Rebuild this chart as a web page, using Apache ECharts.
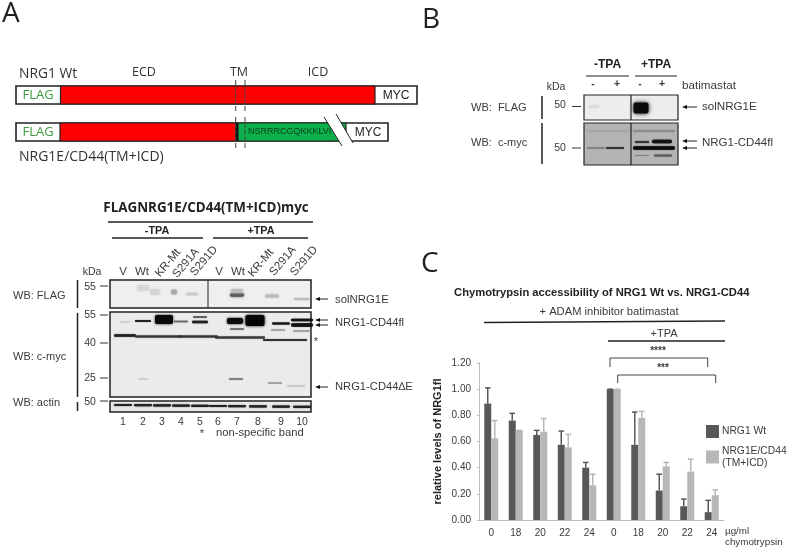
<!DOCTYPE html>
<html>
<head>
<meta charset="utf-8">
<style>
html,body{margin:0;padding:0;background:#fff}
#c{width:787px;height:550px;filter:blur(0.6px)}
</style>
<script src="https://cdn.jsdelivr.net/npm/echarts@6/dist/echarts.min.js"></script>
</head>
<body>
<div id="c"></div>
<script>
// ---- Panel C data ----
const doses = ['0','18','20','22','24','0','18','20','22','24'];
const wtName = 'NRG1 Wt';
const cd44Name = 'NRG1E/CD44\n(TM+ICD)';
const wtValues = [0.89,0.76,0.65,0.575,0.40,1.00,0.575,0.225,0.105,0.06];
const cd44Values = [0.625,0.685,0.675,0.555,0.265,1.00,0.78,0.41,0.37,0.19];
const wtErrTop = [1.01,0.815,0.685,0.68,0.44,1.00,0.825,0.35,0.16,0.15];
const cd44ErrTop = [0.76,0.685,0.775,0.655,0.35,1.00,0.83,0.44,0.465,0.23];
// ---- Panel labels ----
const laneNames = ['V','Wt','KR-Mt','S291A','S291D','V','Wt','KR-Mt','S291A','S291D'];
const laneNumbers = ['1','2','3','4','5','6','7','8','9','10'];

const SANS = '"Liberation Sans",Arial,sans-serif';
const CAL = '"Open Sans","Noto Sans",sans-serif';
const els = [];
function T(text,x,y,o){o=o||{};
  els.push({type:'text',x:x,y:y,rotation:o.rot||0,z:20,silent:true,style:{text:text,x:0,y:0,
    font:(o.w||'normal')+' '+(o.s||10.5)+'px '+(o.f||SANS),fill:o.c||'#3a3a3a',
    align:o.a||'left',verticalAlign:'middle',textAlign:o.a||'left',textVerticalAlign:'middle'}});
}
function L(x1,y1,x2,y2,o){o=o||{};
  els.push({type:'line',z:o.z||15,silent:true,shape:{x1,y1,x2,y2},
    style:{stroke:o.c||'#222',lineWidth:o.w||1,lineDash:o.d||null}});
}
function R(x,y,w,h,fill,o){o=o||{};
  els.push({type:'rect',z:o.z||10,silent:true,shape:{x,y,width:w,height:h,r:o.r||0},
    style:{fill:fill,stroke:o.s||null,lineWidth:o.lw||1,shadowBlur:o.b||0,shadowColor:o.b?fill:null,opacity:o.op==null?1:o.op}});
}
function Arrow(x1,x2,y){
  L(x1+3,y,x2,y,{c:'#222',w:1});
  els.push({type:'polygon',z:15,silent:true,shape:{points:[[x1,y],[x1+5,y-2],[x1+5,y+2]]},style:{fill:'#111'}});
}
function band(x,y,w,h,c,b,z){R(x-w/2,y-h/2,w,h,c,{b:b==null?1.5:b,z:z||12,r:Math.min(h/2,2)});}

// ---- Panel letters ----
T('A',2,14,{s:28,f:CAL,c:'#222'});
T('B',422,20,{s:28,f:CAL,c:'#222'});
T('C',421,264,{s:28,f:CAL,c:'#222'});

// ---- Panel A schematic ----
T('NRG1 Wt',19,74,{s:13.8,f:CAL,c:'#333'});
T('ECD',144,72,{s:12.5,f:CAL,a:'center',c:'#333'});
T('TM',239,72,{s:12.5,f:CAL,a:'center',c:'#333'});
T('ICD',318,72,{s:12.5,f:CAL,a:'center',c:'#333'});
R(16,86,401,18,'#fff',{s:'#222',lw:1.6});
R(60.5,86,314.5,18,'#fe0000',{s:'#222',lw:1.2});
T('FLAG',38,95.5,{s:13,f:CAL,a:'center',c:'#3f9a3f'});
T('MYC',396,95.5,{s:12,a:'center',c:'#222'});
R(16,123,372,18,'#fff',{s:'#222',lw:1.6});
R(60,123,176,18,'#fe0000',{s:'#222',lw:1.2});
R(236,123,110,18,'#0db14b',{s:'#222',lw:1.2});
R(236,123,2.5,18,'#111',{z:11});
T('FLAG',38,132.5,{s:13,f:CAL,a:'center',c:'#3f9a3f'});
T('NSRRRCGQKKKLVI',248,132,{s:9,c:'#0b3d1e'});
els.push({type:'polygon',z:13,silent:true,shape:{points:[[324,117],[336,114],[353,143],[342,146]]},style:{fill:'#fff'}});
L(324,117,342,146,{w:1,c:'#222'});L(336,114,353,143,{w:1,c:'#222'});
T('MYC',368,132.5,{s:12,a:'center',c:'#222'});
L(235.7,80,235.7,112,{d:[5,1.5],c:'#444',z:16});L(245,80,245,112,{d:[5,1.5],c:'#444',z:16});
L(235.7,117,235.7,149,{d:[5,1.5],c:'#444',z:16});L(245,117,245,149,{d:[5,1.5],c:'#444',z:16});
T('NRG1E/CD44(TM+ICD)',19,157,{s:14,f:CAL,c:'#333'});

// ---- Panel A western blot ----
T('FLAGNRG1E/CD44(TM+ICD)myc',206,208,{s:13.4,w:'bold',f:CAL,a:'center',c:'#222'});
L(108,222,313,222,{w:1.3});
T('-TPA',157,231,{s:10.8,w:'bold',a:'center',c:'#222'});
T('+TPA',261,231,{s:10.8,w:'bold',a:'center',c:'#222'});
L(112,238,203,238,{w:1.3});L(213,238,308,238,{w:1.3});
T('kDa',92,272,{s:10.5,a:'center'});
const laneLabelPos=[[123,272,0],[142,272,0],[168,263,.87],[186,263,.87],[204,261,.87],[219,272,0],[238,272,0],[261,263,.87],[283,261,.87],[304,261,.87]];
laneNames.forEach((n,i)=>T(n,laneLabelPos[i][0],laneLabelPos[i][1],{a:'center',rot:laneLabelPos[i][2],s:11.5}));
const laneX=[123,143,162,181,200,218,237,258,281,302];
laneNumbers.forEach((n,i)=>T(n,laneX[i],422,{a:'center',s:10.5}));
T('*',202,434,{s:11,a:'center'});
T('non-specific band',216,433,{s:11.2});
// frames
R(110,280,201,28,'#efefef',{s:'#222',lw:1.5,z:9});
R(110,312,201,85,'#ebebeb',{s:'#222',lw:1.5,z:9});
R(110,401,201,11,'#e8e8e8',{s:'#222',lw:1.5,z:9});
L(208,280,208,308,{w:1,z:14});
// tick labels
[[90,287,'55',286],[90,315,'55',315],[90,343,'40',343],[90,378,'25',378],[90,402,'50',401]].forEach(a=>{
  T(a[2],a[0],a[1],{a:'center',s:10.5});L(100,a[3],108,a[3],{w:1,c:'#333'});
});
T('WB: FLAG',13,296,{s:11});T('WB: c-myc',13,357,{s:11});T('WB: actin',13,403,{s:11});
L(77.5,280,77.5,308,{w:1.5});L(77.5,313,77.5,397,{w:1.5});L(77.5,402,77.5,411,{w:1.5});
Arrow(315,328,299);T('solNRG1E',335,300,{s:11.4});
Arrow(315,328,320);Arrow(315,328,325);T('NRG1-CD44fl',335,323,{s:11.2});
Arrow(315,328,387);T('NRG1-CD44\u2206E',335,387,{s:11.2});
T('*',316,342,{s:11,a:'center'});
// FLAG bands
band(237,295,14,3.5,'#555',3);band(237,291,12,4,'#bbb',3);
band(143,288,12,6,'#d8d8d8',3);band(174,292,6,5,'#aaa',2);band(155,292,10,6,'#d4d4d4',3);
band(192,294,12,3,'#ccc',2);band(272,296,14,3,'#bbb',2);band(302,299,16,2,'#bbb',2);
// nonspecific band across the gel
band(125,335.5,22,2.6,'#222',1.2);band(158,336.5,46,1.8,'#333',1);
band(198,336.5,40,1.8,'#333',1);band(240,337.5,50,1.8,'#333',1);band(285,340,44,2,'#333',1);
// target bands
band(143,321,16,2.2,'#222',1);band(164,319.5,18,9,'#0a0a0a',2.5);band(181,321.5,14,1.6,'#666',1);
band(200,317,14,1.4,'#555',.8);band(200,322,16,2.4,'#222',1);band(125,322,10,1,'#c4c4c4',1.5);
band(235,321,16,6,'#0a0a0a',2.5);band(255,320.5,19,11,'#050505',3);band(281,323.5,18,2.2,'#111',1);
band(302,320,22,2.6,'#111',1);band(302,325,22,3.6,'#111',1);
band(237,329,14,1.6,'#666',1.2);band(278,330,14,1.2,'#888',1.2);band(302,331,18,1.2,'#888',1.2);
band(236,379,14,1.3,'#777',1.2);band(275,383,14,1,'#888',1);band(143,379,10,1,'#c4c4c4',1.5);band(296,386,18,1,'#bbb',1.5);
// actin
[123,143,162,181,200,218,237,258,281,302].forEach((x,i)=>band(x,405+i*0.2,18,2.2,'#222',1.2));

// ---- Panel B blot ----
T('-TPA',607.5,65,{s:12,w:'bold',a:'center',c:'#222'});
T('+TPA',656,65,{s:12,w:'bold',a:'center',c:'#222'});
L(586,76,629,76,{w:1.2});L(635,76,677,76,{w:1.2});
T('kDa',556,87,{s:10.5,a:'center'});
['-','+','-','+'].forEach((s,i)=>T(s,[593,617,640,662][i],84,{a:'center',s:10.5,w:'bold'}));
T('batimastat',682,86,{s:11.7});
R(584,95,94,25,'#ededed',{s:'#222',lw:1.2,z:9});
R(584,123,94,42,'#b4b4b4',{s:'#222',lw:1.2,z:9});
L(631,95,631,120,{w:1.2,z:14});L(631,123,631,165,{w:1.2,z:14});
T('50',560,105,{a:'center',s:10.5});L(572,106.5,581,106.5,{w:1,c:'#333'});
T('50',560,148,{a:'center',s:10.5});L(572,148,581,148,{w:1,c:'#333'});
T('WB:  FLAG',471,108,{s:11});T('WB:  c-myc',471,143,{s:11});
L(542,96,542,119,{w:1.5});L(542,123,542,164,{w:1.5});
Arrow(682,697,107);T('solNRG1E',702,107,{s:11.6});
Arrow(682,697,141);Arrow(682,697,148);T('NRG1-CD44fl',702,143,{s:11.5});
band(641,108,15,11,'#0a0a0a',4);band(594,106.5,11,3,'#dcdcdc',3);
[[608,131,44,1.2,'#a0a0a0'],[654,131,42,1.8,'#8c8c8c']].forEach(a=>band(a[0],a[1],a[2],a[3],a[4],1.5));
band(642,142,14,1.8,'#333',1.2);band(662,141.5,20,3.4,'#111',1.2);
band(596,148,18,1.2,'#707070',1);band(615,148,18,2.2,'#333',1);
band(654,148,42,3.4,'#0c0c0c',1);
band(642,155.5,14,1.2,'#808080',1);band(663,155.5,18,1.8,'#5c5c5c',1);

// ---- Panel C annotations ----
T('Chymotrypsin accessibility of NRG1 Wt vs. NRG1-CD44',601.7,293,{s:11.2,w:'bold',a:'center',c:'#222'});
T('+ ADAM inhibitor batimastat',609,312,{s:11.2,a:'center'});
L(484,322.5,725,321,{w:1.3,c:'#222'});
T('+TPA',664,334,{s:11,a:'center'});
L(608,341,725,341,{w:1.3,c:'#222'});
T('****',658,351,{s:10,w:'bold',a:'center'});
L(610,367,610,358,{w:1,c:'#444'});L(610,358,707.7,358,{w:1,c:'#444'});L(707.7,358,707.7,367,{w:1,c:'#444'});
T('***',663,368,{s:10,w:'bold',a:'center'});
L(617.7,383,617.7,375,{w:1,c:'#444'});L(617.7,375,715.7,375,{w:1,c:'#444'});L(715.7,375,715.7,383,{w:1,c:'#444'});
T('\u00b5g/ml',725,531.5,{s:9.8});T('chymotrypsin',725,542.5,{s:9.8});

function errSeries(name,vals,tops,color,dir){
  return {type:'custom',name:name+'-err',z:3,silent:true,legendHoverLink:false,
    data:vals.map((v,i)=>[i,v,tops[i]]),
    encode:{x:0,y:[1,2]},
    renderItem:function(p,api){
      const b=api.coord([api.value(0),api.value(1)]),t=api.coord([api.value(0),api.value(2)]);
      const x=b[0]+dir*3.5, st={stroke:color,lineWidth:1.5};
      return {type:'group',children:[
        {type:'line',shape:{x1:x,y1:b[1],x2:x,y2:t[1]},style:st},
        {type:'line',shape:{x1:x-2.8,y1:t[1],x2:x+2.8,y2:t[1]},style:st}
      ]};
    }};
}
const DARK='#58585b', LIGHT='#b7b7b7';
const chart=echarts.init(document.getElementById('c'),null,{renderer:'canvas'});
chart.setOption({
  animation:false,
  backgroundColor:'#fff',
  grid:{left:479,top:363,width:245,height:157,containLabel:false},
  legend:{left:706,top:425,orient:'vertical',itemWidth:13,itemHeight:13,itemGap:3,icon:'rect',selectedMode:false,padding:0,
    data:[{name:wtName},{name:cd44Name,textStyle:{padding:[8,0,0,-2],fontFamily:SANS,fontSize:10.3,color:'#3a3a3a',lineHeight:12}}],
    textStyle:{fontFamily:SANS,fontSize:10.3,color:'#3a3a3a',padding:[0,0,0,-2],lineHeight:12}},
  xAxis:{type:'category',data:doses,
    axisLine:{lineStyle:{color:'#bdbdbd',width:1}},axisTick:{show:false},
    axisLabel:{interval:0,fontFamily:SANS,fontSize:10,color:'#3a3a3a',margin:8}},
  yAxis:{type:'value',min:0,max:1.2,interval:0.2,name:'relative levels of NRG1fl',nameLocation:'middle',nameGap:36,
    nameTextStyle:{fontFamily:SANS,fontSize:11,fontWeight:'bold',color:'#222'},
    axisLine:{show:true,lineStyle:{color:'#bdbdbd',width:1}},axisTick:{show:true,length:2,lineStyle:{color:'#bdbdbd'}},splitLine:{show:false},
    axisLabel:{formatter:v=>v.toFixed(2),fontFamily:SANS,fontSize:10,color:'#3a3a3a',margin:8}},
  series:[
    {type:'bar',name:wtName,data:wtValues,barWidth:7,barGap:0,itemStyle:{color:DARK}},
    {type:'bar',name:cd44Name,data:cd44Values,barWidth:7,barGap:0,itemStyle:{color:LIGHT}},
    errSeries('wt',wtValues,wtErrTop,DARK,-1),
    errSeries('cd44',cd44Values,cd44ErrTop,LIGHT,1)
  ],
  graphic:{elements:els}
});
</script>
</body>
</html>
